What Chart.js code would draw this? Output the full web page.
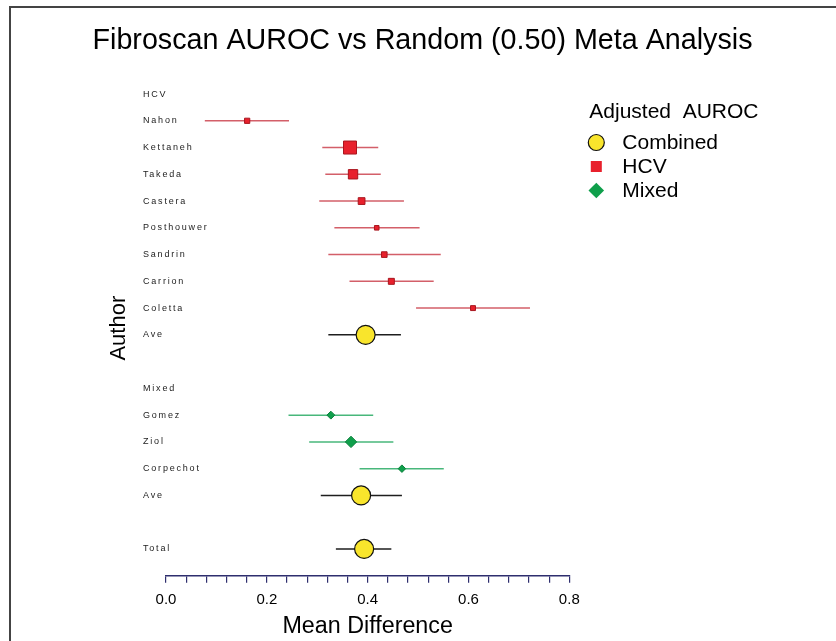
<!DOCTYPE html>
<html>
<head>
<meta charset="utf-8">
<script src="https://cdn.jsdelivr.net/npm/chart.js"></script>
<style>
  body { margin: 0; background: #fff; }
  #wrap { position: relative; width: 836px; height: 641px; overflow: hidden; }
  #frame { position: absolute; left: 9px; top: 6px; width: 900px; height: 700px;
           border-top: 2px solid #444; border-left: 2px solid #444; pointer-events: none; }
</style>
</head>
<body>
<div id="wrap">
  <canvas id="forest" width="836" height="641"></canvas>
  <div id="frame"></div>
</div>
<script>
// rows from top to bottom, blank rows are spacers
const rowLabels = ['HCV', 'Nahon', 'Kettaneh', 'Takeda', 'Castera', 'Posthouwer', 'Sandrin', 'Carrion', 'Coletta', 'Ave',
                   '', 'Mixed', 'Gomez', 'Ziol', 'Corpechot', 'Ave', '', 'Total']

const hcvRows   = [1, 2, 3, 4, 5, 6, 7, 8]
const hcvMean   = [0.161, 0.365, 0.371, 0.388, 0.418, 0.433, 0.447, 0.609]
const hcvLow    = [0.077, 0.310, 0.316, 0.304, 0.334, 0.322, 0.364, 0.496]
const hcvHigh   = [0.244, 0.421, 0.426, 0.472, 0.503, 0.545, 0.531, 0.722]
const hcvWeight = [0.40, 1.00, 0.72, 0.52, 0.35, 0.43, 0.46, 0.38]

const mixedRows   = [12, 13, 14]
const mixedMean   = [0.327, 0.367, 0.468]
const mixedLow    = [0.243, 0.284, 0.384]
const mixedHigh   = [0.411, 0.451, 0.551]
const mixedWeight = [0.43, 0.62, 0.41]

const combinedRows = [9, 15, 17]
const combinedMean = [0.396, 0.387, 0.393]
const combinedLow  = [0.322, 0.307, 0.337]
const combinedHigh = [0.466, 0.468, 0.447]

const xLabels = ['0.0', '0.2', '0.4', '0.6', '0.8']

const FONT = "'Liberation Sans', Arial, sans-serif"
Chart.defaults.font.family = FONT
Chart.defaults.color = '#000'

const pts = (rows, vals) => rows.map((r, i) => ({ x: vals[i], y: r }))

// confidence interval lines, drawn under the markers
const ciLines = {
  id: 'ciLines',
  beforeDatasetsDraw(chart) {
    const { ctx, scales: { x, y } } = chart
    ctx.save()
    ctx.lineWidth = 1.5
    chart.data.datasets.forEach(ds => {
      ctx.strokeStyle = ds.ciColor
      ds.data.forEach((p, i) => {
        const py = y.getPixelForValue(p.y)
        ctx.beginPath()
        ctx.moveTo(x.getPixelForValue(ds.ciLow[i]), py)
        ctx.lineTo(x.getPixelForValue(ds.ciHigh[i]), py)
        ctx.stroke()
      })
    })
    ctx.restore()
  }
}

// author labels: wider letter spacing, and let them run over the plot (no clip)
const spacedLabels = {
  id: 'spacedLabels',
  beforeDraw(chart) {
    const s = chart.scales.y
    if (!s || s._spaced) return
    const orig = s.drawLabels.bind(s)
    s._computeLabelArea = () => undefined
    s.drawLabels = function (area) {
      chart.ctx.save()
      chart.ctx.letterSpacing = '1.8px'
      orig(area)
      chart.ctx.restore()
    }
    s._spaced = true
  }
}

function fallbackPoint(ctx, o, x, y) {
  const r = o.radius
  ctx.beginPath()
  if (o.pointStyle === 'rect') {
    const h = r * Math.SQRT1_2
    ctx.rect(x - h, y - h, 2 * h, 2 * h)
  } else if (o.pointStyle === 'rectRot') {
    ctx.moveTo(x - r, y); ctx.lineTo(x, y - r); ctx.lineTo(x + r, y); ctx.lineTo(x, y + r); ctx.closePath()
  } else {
    ctx.arc(x, y, r, 0, Math.PI * 2)
  }
  ctx.fill()
  if (o.borderWidth > 0) ctx.stroke()
}

const sideLegend = {
  id: 'sideLegend',
  afterDraw(chart, args, opts) {
    const { ctx, chartArea } = chart
    const drawPoint = (Chart.helpers && Chart.helpers.drawPoint) || fallbackPoint
    const x0 = chartArea.right + opts.offsetX
    ctx.save()
    ctx.font = opts.font
    ctx.textBaseline = 'middle'
    ctx.textAlign = 'left'
    ctx.fillStyle = '#000'
    ctx.fillText(opts.title, x0, opts.titleY)
    chart.data.datasets.forEach((ds, i) => {
      const y = opts.firstY + i * opts.step
      ctx.fillStyle = ds.backgroundColor
      ctx.strokeStyle = ds.borderColor
      ctx.lineWidth = opts.borderWidth[i]
      drawPoint(ctx, { pointStyle: ds.pointStyle, radius: opts.radius[i], rotation: 0, borderWidth: opts.borderWidth[i] }, x0 + 7, y)
      ctx.fillStyle = '#000'
      ctx.fillText(ds.label, x0 + 33, y + 0.5)
    })
    ctx.restore()
  }
}

new Chart(document.getElementById('forest'), {
  type: 'scatter',
  data: {
    datasets: [
      {
        label: 'Combined',
        data: pts(combinedRows, combinedMean),
        ciLow: combinedLow, ciHigh: combinedHigh, ciColor: '#1e1e1e',
        pointStyle: 'circle', pointRadius: 9.5,
        backgroundColor: '#f9e52c', borderColor: '#111', borderWidth: 1.2
      },
      {
        label: 'HCV',
        data: pts(hcvRows, hcvMean),
        ciLow: hcvLow, ciHigh: hcvHigh, ciColor: 'rgba(196, 42, 55, 0.75)',
        pointStyle: 'rect', pointRadius: hcvWeight.map(w => 9.2 * w),
        backgroundColor: '#e8202c', borderColor: '#a8161f', borderWidth: 1
      },
      {
        label: 'Mixed',
        data: pts(mixedRows, mixedMean),
        ciLow: mixedLow, ciHigh: mixedHigh, ciColor: 'rgba(40, 170, 100, 0.85)',
        pointStyle: 'rectRot', pointRadius: mixedWeight.map(w => 9.2 * w),
        backgroundColor: '#0f9f4b', borderColor: '#0b7f3b', borderWidth: 1
      }
    ]
  },
  options: {
    responsive: false,
    animation: false,
    layout: { padding: { left: 9, right: 0, top: 0, bottom: 0 } },
    scales: {
      x: {
        type: 'linear', position: 'bottom',
        min: 0, max: 0.8,
        grid: { drawOnChartArea: false, tickLength: 7, color: '#2e2e6e', lineWidth: 1.2 },
        border: { display: true, color: '#2e2e6e', width: 1.5 },
        ticks: {
          stepSize: 0.04, autoSkip: false, maxRotation: 0, padding: 8,
          font: { size: 15 }, color: '#000',
          callback: (v) => {
            const k = Math.round(v / 0.2)
            return Math.abs(v - k * 0.2) < 1e-6 ? xLabels[k] : ''
          }
        },
        title: { display: true, text: 'Mean Difference', font: { size: 23.3 }, color: '#000', padding: { top: 0, bottom: 0 } },
        afterFit: (s) => { s.height = 65.3 }
      },
      y: {
        type: 'linear', position: 'left', reverse: true,
        min: -0.5, max: 18,
        grid: { display: false },
        border: { display: false },
        afterBuildTicks: (s) => { s.ticks = rowLabels.map((_, i) => ({ value: i })) },
        ticks: {
          autoSkip: false, crossAlign: 'far', padding: 0,
          font: { size: 9 }, color: '#222',
          callback: (v) => rowLabels[v] || ''
        },
        afterFit: (s) => { s.width = 23 }
      },
      yTitle: {
        axis: 'y', type: 'linear', position: 'left', weight: 1,
        grid: { display: false },
        border: { display: false },
        ticks: { display: false },
        title: { display: true, text: 'Author', font: { size: 22 }, color: '#000', padding: { top: 97, bottom: 0 } },
        afterFit: (s) => { s.width = 134 }
      },
      yRight: {
        axis: 'y', type: 'linear', position: 'right',
        grid: { display: false },
        border: { display: false },
        ticks: { display: false },
        afterFit: (s) => { s.width = 836 - 569.3 }
      }
    },
    plugins: {
      legend: { display: false },
      tooltip: { enabled: false },
      title: {
        display: true,
        text: 'Fibroscan AUROC vs Random (0.50) Meta Analysis',
        font: { size: 28.7, weight: 'normal' },
        color: '#000',
        padding: { top: 24, bottom: 22.2 }
      },
      sideLegend: {
        title: 'Adjusted  AUROC',
        font: '21px ' + FONT,
        offsetX: 20,
        titleY: 112.7,
        firstY: 142.5,
        step: 24,
        radius: [8, 7.8, 7.8],
        borderWidth: [1.2, 0, 0]
      }
    }
  },
  plugins: [ciLines, spacedLabels, sideLegend]
})
</script>
</body>
</html>
